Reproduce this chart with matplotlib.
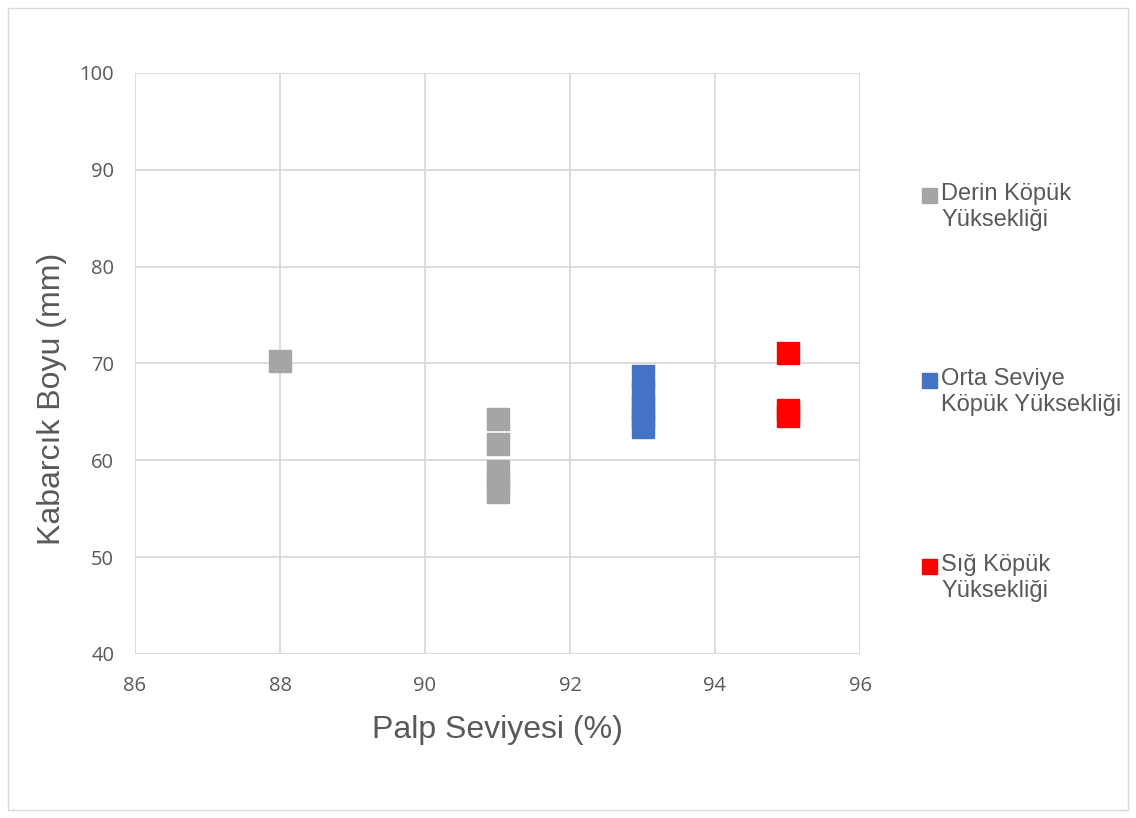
import matplotlib.pyplot as plt
from matplotlib.patches import Rectangle

plt.rcParams['font.family'] = ['Liberation Sans', 'DejaVu Sans']

series_names = ['Derin Köpük\nYüksekliği', 'Orta Seviye\nKöpük Yüksekliği', 'Sığ Köpük\nYüksekliği']
colors = ['#a5a5a5', '#4472c4', '#ff0000']

derin_x = [88, 91, 91, 91, 91, 91]
derin_y = [70.3, 64.3, 61.7, 58.9, 57.7, 56.7]
orta_x = [93, 93, 93, 93, 93]
orta_y = [68.7, 67.0, 65.5, 64.5, 63.4]
sig_x = [95, 95, 95]
sig_y = [71.1, 65.2, 64.6]

xs = [derin_x, orta_x, sig_x]
ys = [derin_y, orta_y, sig_y]

fig = plt.figure(figsize=(11.36, 8.18), dpi=100)
ax = fig.add_axes([135 / 1136, 1 - 654 / 818, (860 - 135) / 1136, (654 - 73) / 818])

for x, y, c in zip(xs, ys, colors):
    ax.plot(x, y, linestyle='none', marker='s', markersize=16.5, color=c, zorder=3)

ax.set_xlim(86, 96)
ax.set_ylim(40, 100)
ax.set_xticks(range(86, 97, 2))
ax.set_yticks(range(40, 101, 10))
ax.grid(True, color='#d9d9d9', linewidth=1.3)
ax.set_axisbelow(True)
for s in ax.spines.values():
    s.set_visible(False)
ax.tick_params(length=0, labelsize=14.5, colors='#595959')
ax.tick_params(axis='x', pad=16)
ax.tick_params(axis='y', pad=15)
for lab in ax.get_xticklabels() + ax.get_yticklabels():
    lab.set_fontfamily(['Open Sans', 'DejaVu Sans'])
ax.set_xlabel('Palp Seviyesi (%)', fontsize=23, color='#595959')
ax.set_ylabel('Kabarcık Boyu (mm)', fontsize=23, color='#595959')
ax.xaxis.set_label_coords(0.5, -0.105)
ax.yaxis.set_label_coords(-0.094, 0.439)

# legend entries placed like the original
leg_y = [196, 381, 567]
for name, c, yy in zip(series_names, colors, leg_y):
    fig.add_artist(Rectangle((922 / 1136, 1 - (yy + 7) / 818), 15 / 1136, 15 / 818,
                             transform=fig.transFigure, color=c))
    fig.text(941 / 1136, 1 - (yy - 13) / 818, name, fontsize=17, color='#595959',
             va='top', ha='left', linespacing=1.25)

fig.add_artist(Rectangle((8 / 1136, 8 / 818), 1120 / 1136, 802 / 818, transform=fig.transFigure,
                         fill=False, edgecolor='#d9d9d9', linewidth=1))

fig.savefig('out.png', dpi=100)
